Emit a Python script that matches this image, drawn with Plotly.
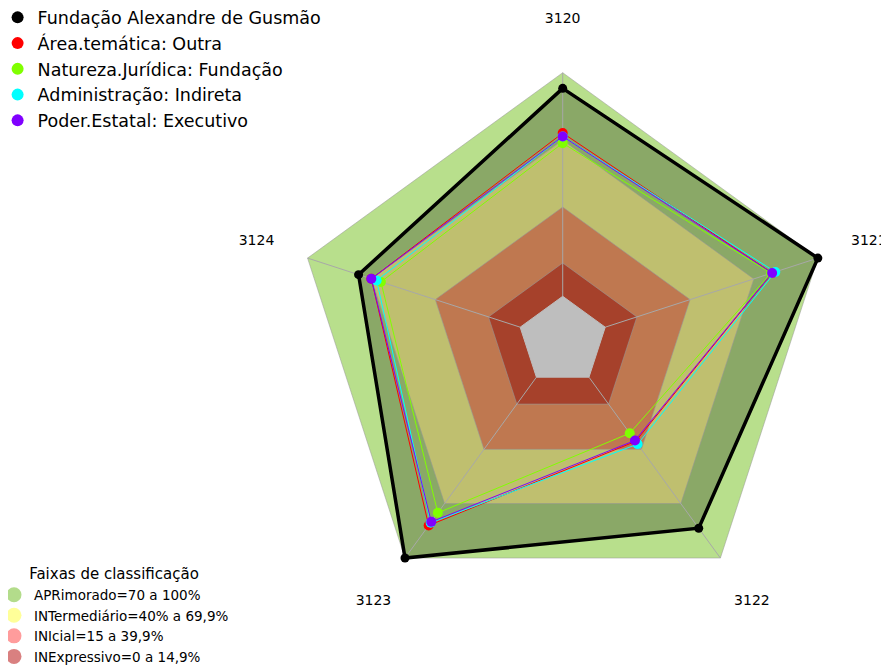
import plotly.graph_objects as go

# radar axes (clockwise from the top)
categories = ["3120", "3121", "3122", "3123", "3124"]

# series values (%)
series_names = [
    "Fundação Alexandre de Gusmão",
    "Área.temática: Outra",
    "Natureza.Jurídica: Fundação",
    "Administração: Indireta",
    "Poder.Estatal: Executivo",
]
fag = [93, 100, 83.5, 100, 76]
area_tematica = [73, 78.5, 35.5, 82, 70]
natureza_juridica = [68.5, 78, 31, 75, 65.5]
administracao = [71.5, 80, 37, 80.5, 67.5]
poder_estatal = [71.5, 78.5, 35, 80, 70]
series_colors = ["#000000", "#FF0000", "#80FF00", "#00FFFF", "#8000FF"]

# classification bands
band_names = ["APRimorado=70 a 100%", "INTermediário=40% a 69,9%",
              "INIcial=15 a 39,9%", "INExpressivo=0 a 14,9%"]
band_upper = [100, 69.9, 39.9, 14.9]
band_colors = ["#B8DF8C", "#BFBF6F", "#BF7850", "#A6412B"]
band_legend_colors = ["#B3DC8B", "#FFFF99", "#FF9C9C", "#D98080"]
center_value = 0
label_r = 124

FONT = "DejaVu Sans"


def closed(vals):
    return list(vals) + list(vals[:1])


theta_c = closed(categories)
fig = go.Figure()

# outer band (APRimorado)
fig.add_trace(go.Scatterpolar(r=closed([band_upper[0]] * 5), theta=theta_c, mode="lines",
                              fill="toself", fillcolor=band_colors[0],
                              line=dict(color="rgba(150,150,150,0.5)", width=1),
                              showlegend=False, hoverinfo="skip", cliponaxis=False))

# area covered by the foundation (darkens the band below)
fig.add_trace(go.Scatterpolar(r=closed(fag), theta=theta_c, mode="lines",
                              fill="toself", fillcolor="#8AA867", line=dict(width=0),
                              showlegend=False, hoverinfo="skip", cliponaxis=False))

# inner bands
for val, col in zip(band_upper[1:], band_colors[1:]):
    fig.add_trace(go.Scatterpolar(r=closed([val] * 5), theta=theta_c, mode="lines",
                                  fill="toself", fillcolor=col,
                                  line=dict(color="rgba(150,150,150,0.6)", width=1),
                                  showlegend=False, hoverinfo="skip", cliponaxis=False))

# spokes
for c in categories:
    fig.add_trace(go.Scatterpolar(r=[center_value, band_upper[0]], theta=[c, c], mode="lines",
                                  line=dict(color="#A8A8A8", width=1),
                                  showlegend=False, hoverinfo="skip", cliponaxis=False))

# grey centre
fig.add_trace(go.Scatterpolar(r=closed([center_value] * 5), theta=theta_c, mode="lines",
                              fill="toself", fillcolor="#BEBEBE", line=dict(color="#BEBEBE", width=1),
                              showlegend=False, hoverinfo="skip", cliponaxis=False))

# series
all_series = [fag, area_tematica, natureza_juridica, administracao, poder_estatal]
for i, (name, vals, col) in enumerate(zip(series_names, all_series, series_colors)):
    lw = 3.5 if i == 0 else 1
    ms = 9 if i == 0 else 10
    fig.add_trace(go.Scatterpolar(r=closed(vals), theta=theta_c, mode="lines",
                                  line=dict(color=col, width=lw), legendgroup=name,
                                  showlegend=False, cliponaxis=False))
    fig.add_trace(go.Scatterpolar(r=vals, theta=categories, mode="markers", name=name,
                                  marker=dict(color=col, size=ms), legendgroup=name,
                                  cliponaxis=False))

# band legend entries
for name, col in zip(band_names, band_legend_colors):
    fig.add_trace(go.Scatterpolar(r=[None], theta=[None], mode="markers", name=name,
                                  marker=dict(color=col, size=15), legend="legend2",
                                  cliponaxis=False))

# axis labels
fig.add_trace(go.Scatterpolar(r=[label_r] * 5, theta=categories, mode="text", text=categories,
                              textfont=dict(family=FONT, size=14, color="#000000"),
                              showlegend=False, hoverinfo="skip", cliponaxis=False))

# the page body adds an 8px margin, so the figure is sized to fit the window
fig.update_layout(
    width=881, height=662,
    margin=dict(l=0, r=0, t=0, b=0, autoexpand=False),
    paper_bgcolor="white",
    font=dict(family=FONT, color="#000000"),
    polar=dict(
        domain=dict(x=[0.26039, 0.99886], y=[0.00559, 0.98837]),
        gridshape="linear",
        bgcolor="rgba(0,0,0,0)",
        radialaxis=dict(range=[-20, 125.5], visible=False),
        angularaxis=dict(direction="clockwise", rotation=90, visible=False,
                         type="category", categoryarray=categories),
    ),
    legend=dict(x=-0.0118, y=1.01284, xanchor="left", yanchor="top",
                font=dict(family=FONT, size=17.5), itemsizing="constant",
                tracegroupgap=0, bgcolor="rgba(0,0,0,0)"),
    legend2=dict(x=-0.0159, y=-0.003, xanchor="left", yanchor="bottom",
                 font=dict(family=FONT, size=13.5), itemsizing="trace",
                 tracegroupgap=0,
                 title=dict(text="Faixas de classificação", side="top center",
                            font=dict(family=FONT, size=15)),
                 bgcolor="rgba(0,0,0,0)"),
)

fig.write_html("out.html")
